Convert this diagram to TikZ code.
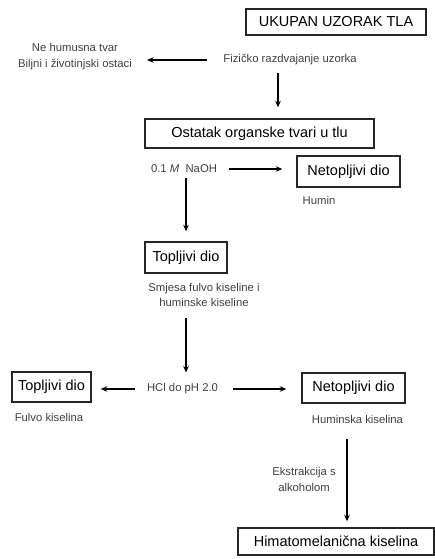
\documentclass[tikz,border=0pt]{standalone}
\usepackage{fontspec}
\setmainfont{Liberation Sans}
\usetikzlibrary{arrows.meta,positioning}

\begin{document}
\begin{tikzpicture}[x=1pt,y=-1pt,
    box/.style={draw=black!85,line width=1.4pt,inner sep=0pt,
      minimum height=30pt,font=\fontsize{14.5}{16}\selectfont},
    note/.style={align=center,inner sep=1pt,
      font=\fontsize{11.3}{15.5}\selectfont,text=black!75},
    flow/.style={-{Stealth[length=6.5pt,width=5.5pt]},line width=1.2pt}
  ]
  \useasboundingbox (0,0) rectangle (435,559);
  % top: sample and physical separation
  \node[box,minimum width=180pt,minimum height=26pt] (total) at (336,22)
    {UKUPAN UZORAK TLA};
  \node[note] (fizicko) at (290,60) {Fizičko razdvajanje uzorka};
  \node[note,font=\fontsize{11.3}{16}\selectfont] (nehum) at (75,57)
    {Ne humusna tvar\\Biljni i životinjski ostaci};
  \draw[flow,shorten <=15pt,shorten >=14pt] (fizicko.west) -- (fizicko.west -| nehum.east);
  \node[box,minimum width=229pt,minimum height=29pt] (ostatak) at (259.5,133.5)
    {Ostatak organske tvari u tlu};
  \draw[flow,shorten <=7pt,shorten >=11pt]
    ([xshift=-12pt]fizicko.south) -- ([xshift=-12pt]fizicko.south |- ostatak.north);
  % NaOH extraction
  \node[note] (naoh) at (184,169) {0.1 \textit{M} \ NaOH};
  \node[box,minimum width=103pt,minimum height=31pt] (netopA) at (348.5,171.5)
    {Netopljivi dio};
  \node[note] (humin) at (319,200) {Humin};
  \draw[flow,shorten <=11pt,shorten >=14pt] (naoh.east) -- (naoh.east -| netopA.west);
  \node[box,minimum width=82pt,minimum height=31pt] (topljA) at (186,257.5)
    {Topljivi dio};
  \draw[flow,shorten <=4pt,shorten >=10pt] (naoh.south -| topljA) -- (topljA.north);
  \node[note] (smjesa) at (204,295)
    {Smjesa fulvo kiseline i\\huminske kiseline};
  % HCl precipitation
  \node[note] (hcl) at (182.5,389) {HCl do pH 2.0};
  \draw[flow,shorten <=10pt,shorten >=10pt] (smjesa.south -| topljA) -- (hcl.north -| topljA);
  \node[box,minimum width=79pt,minimum height=30pt] (topljB) at (51.5,387)
    {Topljivi dio};
  \node[note] (fulvo) at (49,417) {Fulvo kiselina};
  \node[box,minimum width=103pt,minimum height=30pt] (netopB) at (353.5,388)
    {Netopljivi dio};
  \node[note] (huminska) at (357.5,419) {Huminska kiselina};
  \draw[flow,shorten <=11pt,shorten >=9pt] (hcl.west) -- (hcl.west -| topljB.east);
  \draw[flow,shorten <=14pt,shorten >=15pt] (hcl.east) -- (hcl.east -| netopB.west);
  % alcohol extraction
  \node[box,minimum width=196pt,minimum height=27pt] (himato) at (336,541.5)
    {Himatomelanična kiselina};
  \node[note] (ekstr) at (304,479.5)
    {Ekstrakcija s\\alkoholom};
  \draw[flow,shorten <=15pt,shorten >=6pt]
    ([xshift=-10.5pt]huminska.south) -- ([xshift=-10.5pt]huminska.south |- himato.north);
\end{tikzpicture}
\end{document}
